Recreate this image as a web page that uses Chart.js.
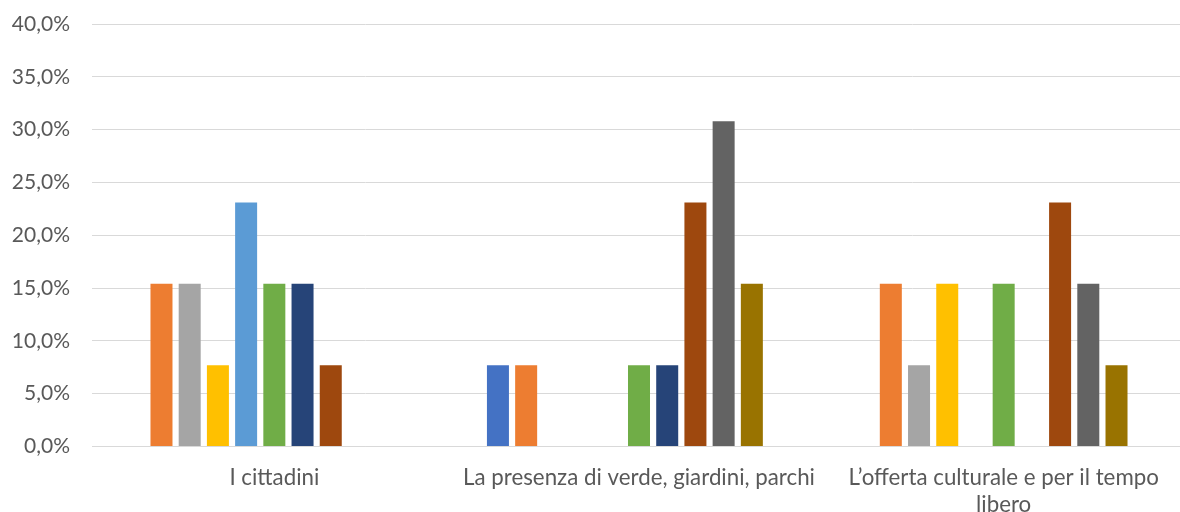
<!DOCTYPE html>
<html lang="it">
<head>
  <meta charset="UTF-8" />
  <title>Grafico a barre</title>
  <script src="https://cdn.jsdelivr.net/npm/chart.js"></script>
  <style>
    html, body {
      margin: 0;
      padding: 0;
      background: #fff;
      overflow: hidden;
    }
    .wrap {
      width: 1186px;
      height: 512px;
    }
  </style>
</head>
<body>
  <div class="wrap">
    <canvas id="chart"></canvas>
  </div>

  <script>
    const categories = [
      'I cittadini',
      'La presenza di verde, giardini, parchi',
      ['L\u2019offerta culturale e per il tempo', 'libero']
    ];

    // percentuali per serie, una voce per categoria
    const serie1  = [0, 7.7, 0];
    const serie2  = [15.4, 7.7, 15.4];
    const serie3  = [15.4, 0, 7.7];
    const serie4  = [7.7, 0, 15.4];
    const serie5  = [23.1, 0, 0];
    const serie6  = [15.4, 7.7, 15.4];
    const serie7  = [15.4, 7.7, 0];
    const serie8  = [7.7, 23.1, 23.1];
    const serie9  = [0, 30.8, 15.4];
    const serie10 = [0, 15.4, 7.7];
    const serie11 = [0, 0, 0];

    const yTicks = [0, 5, 10, 15, 20, 25, 30, 35, 40];

    const allSeries = [serie1, serie2, serie3, serie4, serie5, serie6, serie7, serie8, serie9, serie10, serie11];
    const colors = ['#4472C4', '#ED7D31', '#A5A5A5', '#FFC000', '#5B9BD5', '#70AD47',
                    '#264478', '#9E480E', '#636363', '#997300', '#255E91'];

    const datasets = allSeries.map((vals, i) => ({
      label: 'Serie ' + (i + 1),
      data: vals,
      backgroundColor: colors[i],
      borderWidth: 0,
      categoryPercentage: 0.851,
      barPercentage: 0.78
    }));

    const textColor = '#595959';

    new Chart(document.getElementById('chart'), {
      type: 'bar',
      data: { labels: categories, datasets: datasets },
      options: {
        responsive: true,
        maintainAspectRatio: false,
        animation: false,
        layout: { padding: { top: 24, right: 0, bottom: 0, left: 0 } },
        plugins: {
          legend: { display: false },
          tooltip: { enabled: false }
        },
        scales: {
          x: {
            grid: { display: false, drawTicks: false },
            border: { display: true, color: '#D9D9D9', width: 1 },
            ticks: {
              color: textColor,
              font: { family: 'Lato', size: 22.3, lineHeight: 1.2 },
              padding: 18,
              maxRotation: 0,
              autoSkip: false
            },
            afterFit: (s) => { s.height = 65.5; }
          },
          y: {
            min: 0,
            max: 40,
            afterBuildTicks: (s) => { s.ticks = yTicks.map(v => ({ value: v })); },
            grid: { color: '#D9D9D9', lineWidth: 1, drawTicks: false },
            border: { display: false },
            ticks: {
              color: textColor,
              font: { family: 'Lato', size: 21 },
              padding: 22,
              callback: (v) => v.toFixed(1).replace('.', ',') + '%'
            },
            afterFit: (s) => {
              s.width = 92;
              s.paddingTop = 0;
              s.paddingBottom = 0;
            }
          }
        }
      }
    });
  </script>
</body>
</html>
